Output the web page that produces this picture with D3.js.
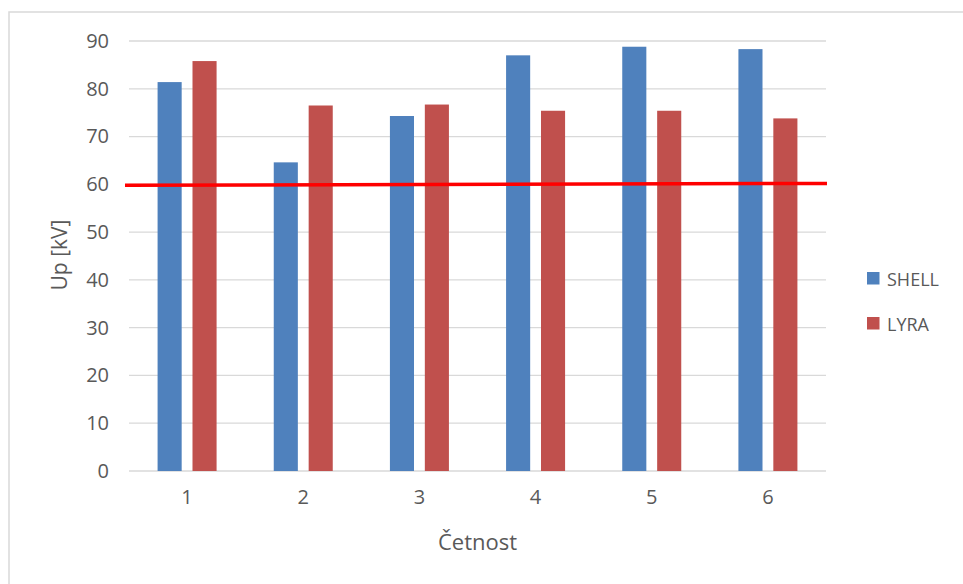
<!DOCTYPE html>
<html>
<head>
<meta charset="utf-8">
<script src="https://cdn.jsdelivr.net/npm/d3@7"></script>
<style>
  html, body { margin: 0; padding: 0; background: #fff; }
  svg { display: block; }
  text { font-family: "Open Sans", "Noto Sans", sans-serif; fill: #595959; }
</style>
</head>
<body>
<script>
// Categories (Četnost) and measured voltages per sample type
const categories = ["1", "2", "3", "4", "5", "6"];
const seriesNames = ["SHELL", "LYRA"];
const shellValues = [81.4, 64.6, 74.3, 87.0, 88.8, 88.3];
const lyraValues = [85.8, 76.5, 76.7, 75.4, 75.4, 73.8];
const yTicks = [0, 10, 20, 30, 40, 50, 60, 70, 80, 90];
// Reference level (slightly sloped straight line across the plot)
const limitLine = [59.8, 60.2];

const colors = { SHELL: "#4f81bd", LYRA: "#c0504d" };

const W = 963, H = 584;
const plot = { left: 129, right: 826, top: 41, bottom: 471 };

const svg = d3.select("body").append("svg")
  .attr("width", W).attr("height", H);

// Chart area frame
svg.append("rect")
  .attr("x", 9).attr("y", 12)
  .attr("width", W + 10).attr("height", H + 10)
  .attr("fill", "#fff")
  .attr("stroke", "#d9d9d9").attr("stroke-width", 1.5);

const x0 = d3.scaleBand().domain(categories)
  .range([plot.left, plot.right]).paddingInner(0).paddingOuter(0);
const x1 = d3.scaleBand().domain(seriesNames)
  .range([x0.bandwidth() / 2 - 29.5, x0.bandwidth() / 2 + 29.5])
  .paddingInner(0.31).paddingOuter(0);
const y = d3.scaleLinear().domain([0, 90]).range([plot.bottom, plot.top]);

// Horizontal gridlines
svg.append("g")
  .selectAll("line").data(yTicks).join("line")
  .attr("x1", plot.left).attr("x2", plot.right)
  .attr("y1", d => y(d)).attr("y2", d => y(d))
  .attr("stroke", "#d9d9d9").attr("stroke-width", 1.3);

// Y axis tick labels
const yAxis = svg.append("g")
  .attr("transform", `translate(${plot.left - 20},0)`)
  .call(d3.axisLeft(y).tickValues(yTicks).tickSize(0).tickPadding(0));
yAxis.select(".domain").remove();
yAxis.selectAll("text")
  .style("font-size", "20px").attr("fill", "#595959")
  .style("font-family", "'Open Sans', sans-serif");

// X axis tick labels
const xAxis = svg.append("g")
  .attr("transform", `translate(0,${plot.bottom + 19})`)
  .call(d3.axisBottom(x0).tickSize(0).tickPadding(0));
xAxis.select(".domain").remove();
xAxis.selectAll("text")
  .style("font-size", "20px").attr("fill", "#595959")
  .style("font-family", "'Open Sans', sans-serif");

// Bars
const rows = categories.map((c, i) => ({ cat: c, SHELL: shellValues[i], LYRA: lyraValues[i] }));
svg.append("g")
  .selectAll("g").data(rows).join("g")
  .attr("transform", d => `translate(${x0(d.cat)},0)`)
  .selectAll("rect")
  .data(d => seriesNames.map(s => ({ s, v: d[s] })))
  .join("rect")
  .attr("x", d => x1(d.s))
  .attr("width", x1.bandwidth())
  .attr("y", d => y(d.v))
  .attr("height", d => y(0) - y(d.v))
  .attr("fill", d => colors[d.s]);

// Reference line
const xl = d3.scaleLinear().domain([0, limitLine.length - 1]).range([plot.left - 4, plot.right + 1]);
svg.append("path")
  .datum(limitLine)
  .attr("d", d3.line().x((d, i) => xl(i)).y(d => y(d)))
  .attr("fill", "none")
  .attr("stroke", "#ff0000")
  .attr("stroke-width", 3.5);

// Axis titles
svg.append("text")
  .attr("transform", `translate(67,255) rotate(-90)`)
  .attr("text-anchor", "middle")
  .style("font-size", "21px")
  .text("Up [kV]");

svg.append("text")
  .attr("x", (plot.left + plot.right) / 2)
  .attr("y", 550)
  .attr("text-anchor", "middle")
  .style("font-size", "22px")
  .text("Četnost");

// Legend
const legend = svg.append("g")
  .selectAll("g").data(seriesNames).join("g")
  .attr("transform", (d, i) => `translate(867,${272 + i * 45})`);
legend.append("rect")
  .attr("width", 12.5).attr("height", 12.5)
  .attr("fill", d => colors[d]);
legend.append("text")
  .attr("x", 20).attr("y", 13.5)
  .style("font-size", "18px")
  .text(d => d);
</script>
</body>
</html>
